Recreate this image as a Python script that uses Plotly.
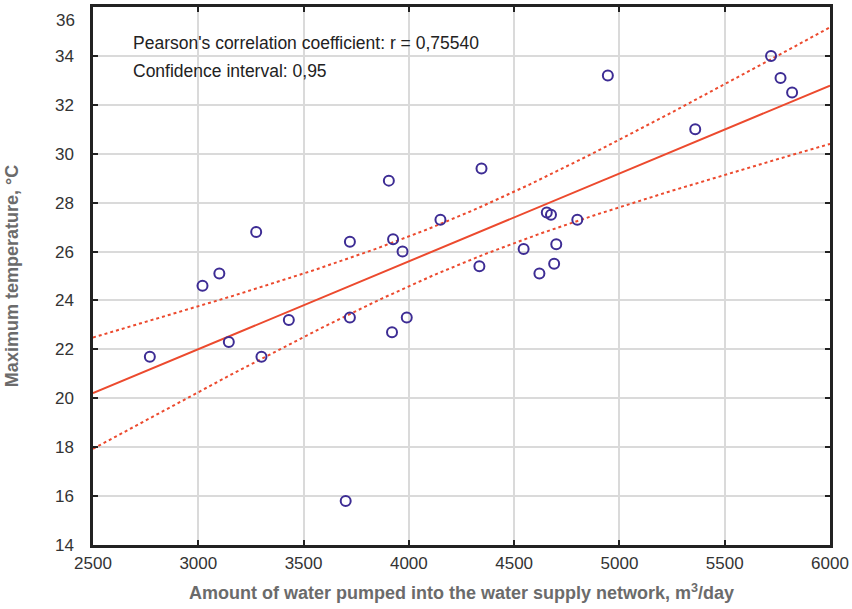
import numpy as np
import plotly.graph_objects as go

water = [2770, 3020, 3100, 3145, 3275, 3300, 3430, 3720, 3720, 3700,
         3905, 3925, 3920, 3970, 3990, 4150, 4345, 4335, 4545, 4620,
         4655, 4675, 4700, 4690, 4800, 4945, 5360, 5720, 5765, 5820]
temp = [21.7, 24.6, 25.1, 22.3, 26.8, 21.7, 23.2, 26.4, 23.3, 15.8,
        28.9, 26.5, 22.7, 26.0, 23.3, 27.3, 29.4, 25.4, 26.1, 25.1,
        27.6, 27.5, 26.3, 25.5, 27.3, 33.2, 31.0, 34.0, 33.1, 32.5]

x_ticks = [2500, 3000, 3500, 4000, 4500, 5000, 5500, 6000]
y_ticks = [14, 16, 18, 20, 22, 24, 26, 28, 30, 32, 34, 36]
y_top_label = "36"  # drawn separately so it is not clipped at the top edge

annot_lines = ["Pearson's correlation coefficient: r = 0,75540",
               "Confidence interval: 0,95"]

x = np.array(water, float)
y = np.array(temp, float)
n = len(x)
b, a = np.polyfit(x, y, 1)
xm = x.mean()
sxx = ((x - xm) ** 2).sum()
resid = y - (a + b * x)
s = np.sqrt((resid ** 2).sum() / (n - 2))
t = 2.048  # t(0.975, df=28)
xs = np.linspace(2500, 6000, 200)
yfit = a + b * xs
se = s * np.sqrt(1 / n + (xs - xm) ** 2 / sxx)
upper = yfit + t * se
lower = yfit - t * se

FONT = "Liberation Sans, Arial"
red = "#ec4a2e"
fig = go.Figure()
fig.add_trace(go.Scatter(x=xs, y=upper, mode="lines",
                         line=dict(color=red, width=2, dash="dot"), hoverinfo="skip"))
fig.add_trace(go.Scatter(x=xs, y=lower, mode="lines",
                         line=dict(color=red, width=2, dash="dot"), hoverinfo="skip"))
fig.add_trace(go.Scatter(x=xs, y=yfit, mode="lines",
                         line=dict(color=red, width=2), hoverinfo="skip"))
fig.add_trace(go.Scatter(x=water, y=temp, mode="markers",
                         marker=dict(symbol="circle-open", size=10, color="#3d2c94",
                                     line=dict(width=2, color="#3d2c94"))))

ys = [0.933, 0.881]
for txt, yy in zip(annot_lines, ys):
    fig.add_annotation(x=0.0516, y=yy, xref="paper", yref="paper",
                       text=txt, showarrow=False, xanchor="left", yanchor="middle",
                       font=dict(family=FONT, size=17.5, color="#222"))

fig.add_annotation(x=0, y=1, xref="paper", yref="paper", text=y_top_label,
                   showarrow=False, xanchor="right", yanchor="middle",
                   xshift=-16, yshift=-13,
                   font=dict(family=FONT, size=17, color="#333"))

y_text = [str(v) for v in y_ticks[:-1]] + [""]

axis_common = dict(showline=True, linecolor="#222", linewidth=2.5, mirror="ticks",
                   ticks="inside", ticklen=5, tickwidth=2, tickcolor="#222",
                   showgrid=True, gridcolor="#dadada", gridwidth=2, zeroline=False,
                   automargin=False, ticklabeloverflow="allow",
                   tickfont=dict(family=FONT, size=17, color="#333"))

fig.update_xaxes(range=[2500, 6000], tickvals=x_ticks, ticklabelstandoff=1,
                 title=dict(text="<b>Amount of water pumped into the water supply network, m<sup>3</sup>/day</b>",
                            font=dict(family=FONT, size=18, color="#6b6b6b"),
                            standoff=15),
                 **axis_common)
fig.update_yaxes(range=[14, 36], tickvals=y_ticks, ticktext=y_text, ticklabelstandoff=13,
                 title=dict(text="<b>Maximum temperature, °C</b>",
                            font=dict(family=FONT, size=18, color="#6b6b6b"),
                            standoff=32),
                 **axis_common)

fig.update_layout(width=852, height=609, showlegend=False,
                  plot_bgcolor="white", paper_bgcolor="white",
                  margin=dict(l=93, r=22, t=7, b=64))
fig.write_html("out.html", config={"displayModeBar": False},
               post_script="document.body.style.margin='0px';document.body.style.overflow='hidden';")
